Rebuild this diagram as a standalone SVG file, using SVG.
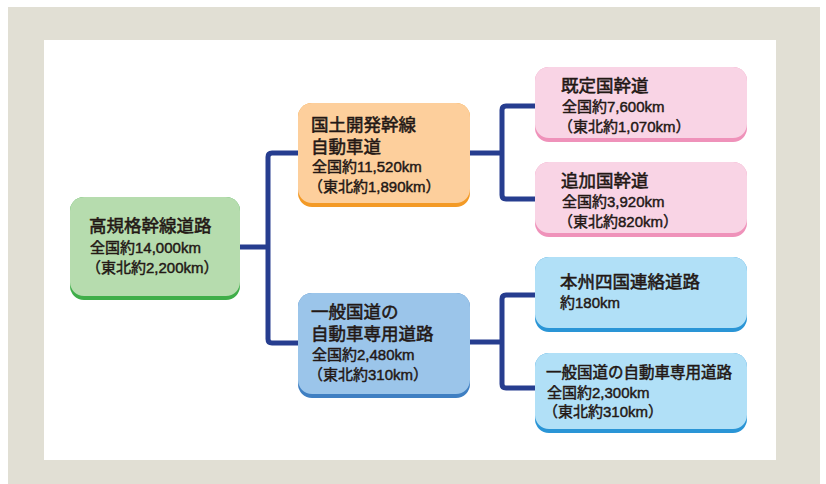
<svg xmlns="http://www.w3.org/2000/svg" width="826" height="484" viewBox="0 0 826 484">
<style>
text{font-family:"Noto Sans CJK JP","Noto Sans",sans-serif;fill:#231815;stroke:#231815}
.t{font-size:17.5px;stroke-width:0.55px}
.s{font-family:"Liberation Sans","Noto Sans CJK JP",sans-serif;font-size:15px;stroke-width:0.45px}
.c{fill:none;stroke:#263d8f;stroke-width:5;stroke-linejoin:round}
</style>
<rect x="8" y="7" width="812" height="477" fill="#e1dfd4"/>
<rect x="44" y="40" width="732" height="420" fill="#ffffff"/>
<g id="connectors">
<path class="c" d="M240 247H268M300 153H272Q268 153 268 157V339Q268 343 272 343H300"/>
<path class="c" d="M470 153H502M536 106H506Q502 106 502 110V195Q502 199 506 199H536"/>
<path class="c" d="M470 342H502M536 295H506Q502 295 502 299V384Q502 388 506 388H536"/>
</g>
<g id="n1">
<rect x="70" y="197" width="170" height="103" rx="14" fill="#3fae49"/>
<rect x="70" y="197" width="170" height="99" rx="14" fill="#b6dcae"/>
<text class="t" x="89" y="232">高規格幹線道路</text>
<text class="s" x="90" y="253">全国約14,000km</text>
<text class="s" x="86" y="273">（東北約2,200km）</text>
</g>
<g id="n2">
<rect x="298" y="103" width="172" height="104" rx="14" fill="#f39a26"/>
<rect x="298" y="103" width="172" height="100" rx="14" fill="#fdcf9c"/>
<text class="t" x="311" y="131">国土開発幹線</text>
<text class="t" x="311" y="152.5">自動車道</text>
<text class="s" x="312" y="172">全国約11,520km</text>
<text class="s" x="308" y="192">（東北約1,890km）</text>
</g>
<g id="n3">
<rect x="298" y="293" width="172" height="105" rx="14" fill="#3f7fc2"/>
<rect x="298" y="293" width="172" height="101" rx="14" fill="#9bc5ea"/>
<text class="t" x="311" y="318">一般国道の</text>
<text class="t" x="311" y="340">自動車専用道路</text>
<text class="s" x="312" y="360">全国約2,480km</text>
<text class="s" x="308" y="380">（東北約310km）</text>
</g>
<g id="n4">
<rect x="535" y="67" width="212" height="75" rx="14" fill="#ef92ba"/>
<rect x="535" y="67" width="212" height="71" rx="14" fill="#f9d4e5"/>
<text class="t" x="561" y="92">既定国幹道</text>
<text class="s" x="562" y="112">全国約7,600km</text>
<text class="s" x="558" y="132">（東北約1,070km）</text>
</g>
<g id="n5">
<rect x="535" y="162" width="212" height="75" rx="14" fill="#ef92ba"/>
<rect x="535" y="162" width="212" height="71" rx="14" fill="#f9d4e5"/>
<text class="t" x="561" y="187">追加国幹道</text>
<text class="s" x="562" y="207">全国約3,920km</text>
<text class="s" x="558" y="227">（東北約820km）</text>
</g>
<g id="n6">
<rect x="535" y="257" width="212" height="75" rx="14" fill="#2a95d6"/>
<rect x="535" y="257" width="212" height="71" rx="14" fill="#b1e0f7"/>
<text class="t" x="560" y="288">本州四国連絡道路</text>
<text class="s" x="560" y="308">約180km</text>
</g>
<g id="n7">
<rect x="535" y="353" width="212" height="80" rx="14" fill="#2a95d6"/>
<rect x="535" y="353" width="212" height="76" rx="14" fill="#b1e0f7"/>
<text class="t" x="546" y="378" style="font-size:15.5px">一般国道の自動車専用道路</text>
<text class="s" x="547" y="398">全国約2,300km</text>
<text class="s" x="543" y="417">（東北約310km）</text>
</g>
</svg>
